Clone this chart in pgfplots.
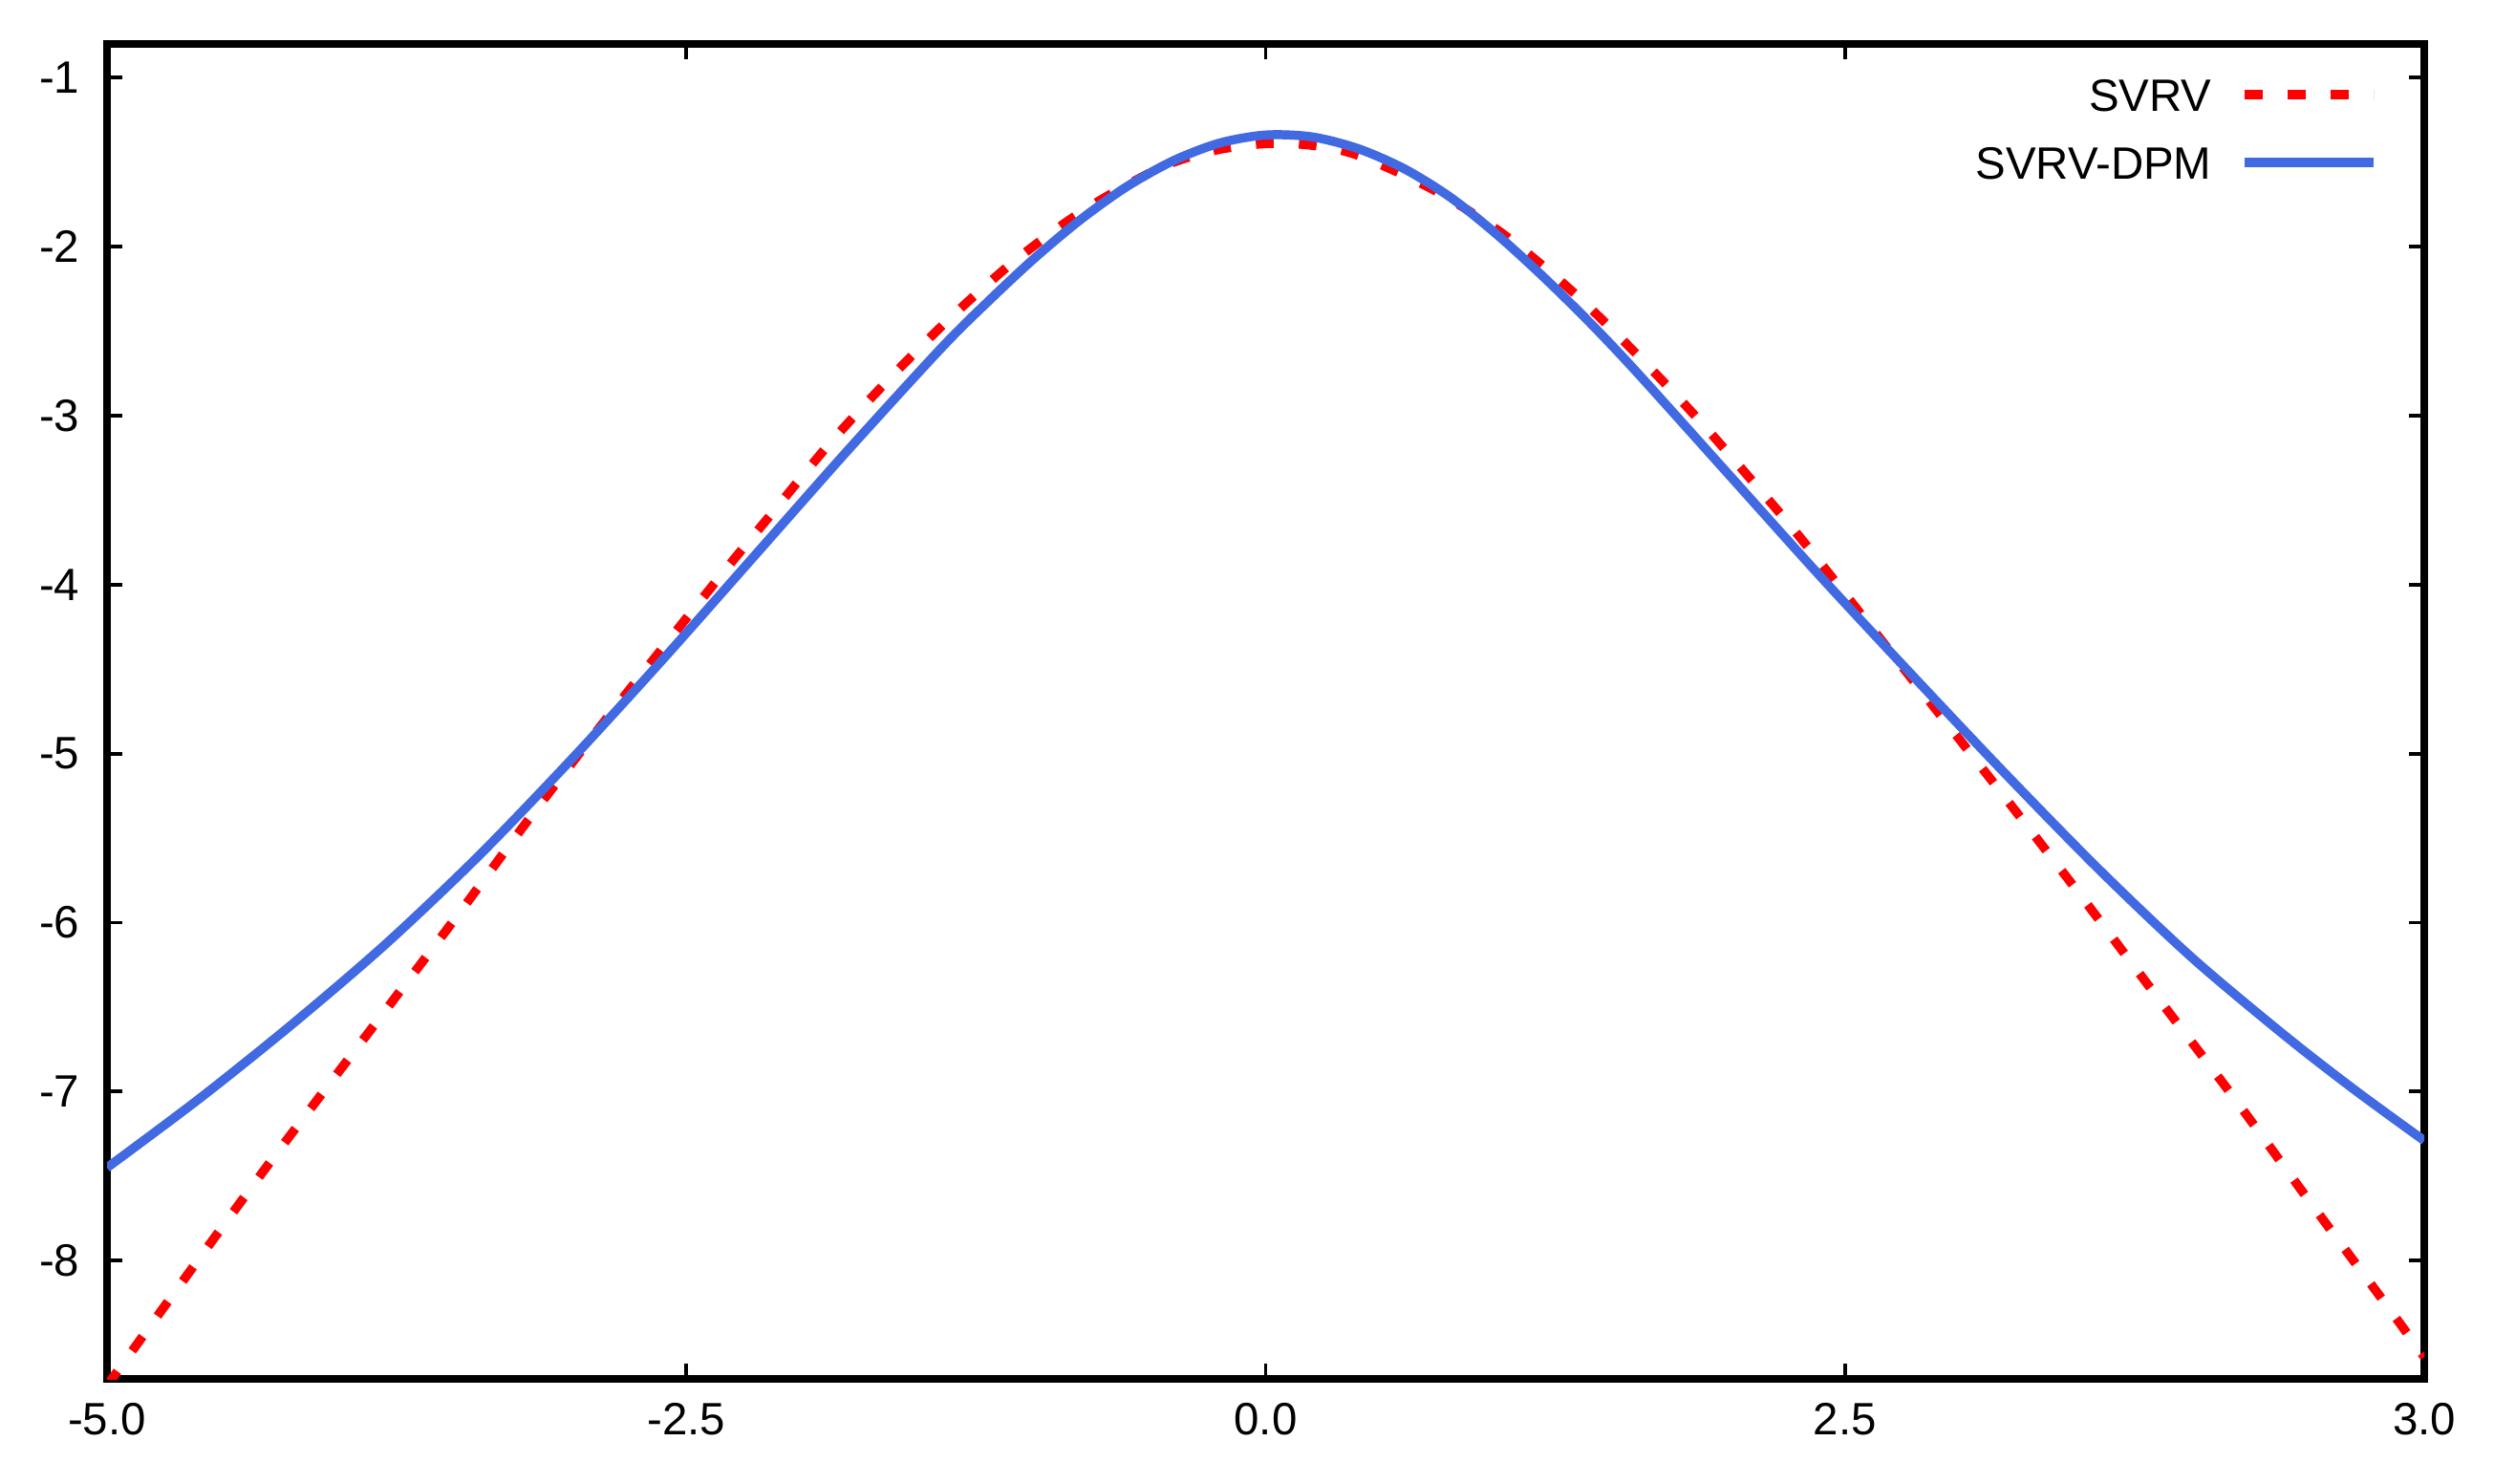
\documentclass[border=0pt]{standalone}
\usepackage{fontspec}
\setmainfont{Liberation Sans}
\usepackage{pgfplots}
\pgfplotsset{compat=1.18}
\definecolor{svrvred}{RGB}{255,0,0}
\definecolor{dpmblue}{RGB}{65,105,225}
\newcommand{\lblfont}{\fontsize{13.5}{16}\selectfont}
\begin{document}
\begin{tikzpicture}
\begin{axis}[name=ax, scale only axis, width=242.5mm, height=139.7mm,
  xmin=-5, xmax=5, ymin=-8.70, ymax=-0.80,
  xtick={-5,-2.5,0,2.5,5}, xticklabels={-5.0,-2.5,0.0,2.5,3.0},
  ytick={-8,-7,-6,-5,-4,-3,-2,-1}, yticklabels={-8,-7,-6,-5,-4,-3,-2,-1},
  tick align=inside, major tick length=1.6mm,
  every tick/.style={black, line width=1.1pt},
  axis line style={line width=2pt},
  xticklabel style={font=\lblfont, anchor=north, inner sep=0pt, yshift=-2.5mm},
  yticklabel style={font=\lblfont, anchor=east, inner sep=0pt, xshift=-2.8mm},
  legend cell align=right, legend plot pos=right,
  legend image code/.code={\draw[#1] (0mm,0mm) -- (13.5mm,0mm);},
  legend style={draw=none, fill=none, font=\lblfont,
    at={(axis description cs:1,1)}, anchor=north east, xshift=-4.8mm, yshift=-3.6mm,
    inner sep=0pt, outer sep=0pt, row sep=3.7mm, column sep=3mm,
    nodes={inner sep=0pt, text height=3.4mm, text depth=0pt}},
]
\addplot[svrvred, line width=2.7pt, dash pattern=on 1.85mm off 2.65mm, line cap=butt, smooth] coordinates {
(-5.0,-8.74) (-4.63,-8.04) (-4.276,-7.38) (-3.91,-6.72) (-3.50,-5.98) (-3.17,-5.37)
(-2.82,-4.75) (-2.36,-3.96) (-2.12,-3.56) (-1.885,-3.17) (-1.63,-2.79) (-1.36,-2.42)
(-1.08,-2.08) (-0.78,-1.78) (-0.45,-1.53) (-0.22,-1.43) (0.0,-1.39) (0.20,-1.40) (0.40,-1.46)
(0.72,-1.66) (1.02,-1.92) (1.32,-2.26) (1.59,-2.62) (1.84,-2.98) (2.09,-3.37)
(2.33,-3.76) (2.79,-4.56) (3.14,-5.17) (3.49,-5.79) (3.82,-6.39) (4.17,-7.02)
(4.50,-7.64) (4.83,-8.25) (5.0,-8.57)};
\addlegendentry{SVRV}
\addplot[dpmblue, line width=2.7pt, smooth] coordinates {
(-5.0,-7.45) (-4.6,-7.04) (-4.2,-6.60) (-3.8,-6.13) (-3.4,-5.61) (-3.0,-5.04)
(-2.6,-4.44) (-2.2,-3.82) (-1.8,-3.20) (-1.4,-2.60) (-1.2,-2.327) (-1.0,-2.071)
(-0.8,-1.841) (-0.6,-1.645) (-0.4,-1.492) (-0.2,-1.387) (0.0,-1.339) (0.2,-1.35)
(0.4,-1.42) (0.6,-1.54) (0.8,-1.71) (1.0,-1.93) (1.2,-2.18) (1.4,-2.45)
(1.6,-2.74) (2.0,-3.35) (2.4,-3.96) (2.8,-4.55) (3.2,-5.13)
(3.6,-5.69) (4.0,-6.21) (4.4,-6.67) (4.7,-6.99) (5.0,-7.29)};
\addlegendentry{SVRV-DPM}
\end{axis}
\path ([shift={(-11.2mm,-10.9mm)}]ax.south west) rectangle ([shift={(7.3mm,4.6mm)}]ax.north east);
\end{tikzpicture}
\end{document}
